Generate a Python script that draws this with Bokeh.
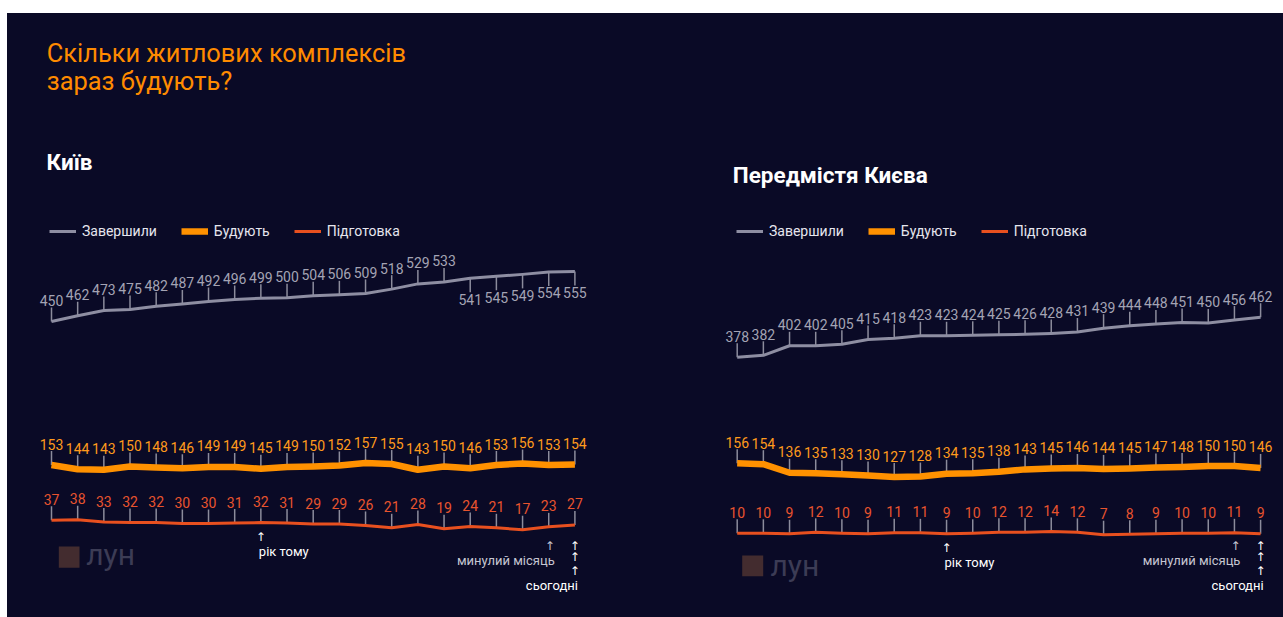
import math

from bokeh.core.properties import value
from bokeh.embed import file_html
from bokeh.layouts import column, row
from bokeh.models import BoxAnnotation, Label, Legend, LegendItem, Range1d, Spacer
from bokeh.plotting import figure
from bokeh.resources import INLINE

# ---- data: 21 monthly snapshots, oldest first, the last one is "today" ----
months = list(range(21))
YEAR_AGO = 8
LAST_MONTH = 19
TODAY = 20

series_names = ["Завершили", "Будують", "Підготовка"]

kyiv_done = [450, 462, 473, 475, 482, 487, 492, 496, 499, 500, 504,
             506, 509, 518, 529, 533, 541, 545, 549, 554, 555]
kyiv_building = [153, 144, 143, 150, 148, 146, 149, 149, 145, 149, 150,
                 152, 157, 155, 143, 150, 146, 153, 156, 153, 154]
kyiv_prep = [37, 38, 33, 32, 32, 30, 30, 31, 32, 31, 29,
             29, 26, 21, 28, 19, 24, 21, 17, 23, 27]

suburbs_done = [378, 382, 402, 402, 405, 415, 418, 423, 423, 424, 425,
                426, 428, 431, 439, 444, 448, 451, 450, 456, 462]
suburbs_building = [156, 154, 136, 135, 133, 130, 127, 128, 134, 135, 138,
                    143, 145, 146, 144, 145, 147, 148, 150, 150, 146]
suburbs_prep = [10, 10, 9, 12, 10, 9, 11, 11, 9, 10, 12,
                12, 14, 12, 7, 8, 9, 10, 10, 11, 9]

# ---- styling ----
BG = "#0a0a26"
TITLE_ORANGE = "#ff8b00"
GREY = "#8e8ea2"
GREY_TXT = "#a4a4b4"
ORANGE = "#ff9100"
ORANGE_TXT = "#ff9a1c"
RED = "#e8501f"
RED_TXT = "#e8542e"
STEM = "#8c8c9c"
WHITE = "#ffffff"
SOFT = "#c6c6d2"
FONT = "Roboto"
ARROW_FONT = "DejaVu Sans"

PX_PER_UNIT = 0.476   # same vertical scale for every series
FRAME_H = 604
PAGE_BOTTOM = 617
STEP = 26.17          # px between months
STEM_LEN = 14
LABEL_GAP = 21
BASELINE_LIFT = 9     # raise free-standing labels onto their baselines


def band_range(first_value, first_page_y):
    """A y range that puts first_value at the given page row, PX_PER_UNIT px per unit."""
    start = first_value - (PAGE_BOTTOM - first_page_y) / PX_PER_UNIT
    return Range1d(start, start + FRAME_H / PX_PER_UNIT)


def screen_label(p, x, y, text, size, color, style="normal", align="left"):
    p.add_layout(Label(x=x, y=y + BASELINE_LIFT, x_units="screen", y_units="screen",
                       text=text, text_font=FONT, text_font_size=size,
                       text_color=color, text_font_style=style, text_align=align,
                       text_baseline="alphabetic"))


def build_panel(width, first_x, done, building, prep, band_rows, below_from,
                heading, heading_xy, legend_x, logo_box, logo_text_xy):
    p = figure(width=width, height=FRAME_H, output_backend="svg",
               toolbar_location=None, x_axis_location=None, y_axis_location=None,
               x_range=Range1d(-first_x / STEP, (width - first_x) / STEP),
               y_range=Range1d(0, FRAME_H), min_border=0,
               background_fill_color=BG, border_fill_color=BG,
               outline_line_color=None)
    p.grid.visible = False

    styles = [
        ("done", done, GREY, 3, GREY_TXT),
        ("building", building, ORANGE, 6.5, ORANGE_TXT),
        ("prep", prep, RED, 3, RED_TXT),
    ]
    for (name, vals, *_), row_y in zip(styles, band_rows):
        p.extra_y_ranges[name] = band_range(vals[0], row_y)

    lines = []
    for name, vals, color, lw, txt_color in styles:
        below = [name == "done" and below_from is not None and i >= below_from
                 for i in months]
        p.ray(x=months, y=vals, length=STEM_LEN, length_units="screen",
              angle=[-math.pi / 2 if b else math.pi / 2 for b in below],
              line_color=STEM, line_width=1.5, y_range_name=name)
        r = p.line(months, vals, line_color=color, line_width=lw,
                   line_join="round", y_range_name=name)
        lines.append(r)
        p.text(x=months, y=vals, text=[str(v) for v in vals],
               y_offset=[LABEL_GAP if b else -LABEL_GAP for b in below],
               text_align="center", text_baseline="middle",
               text_font=value(FONT), text_font_size="14px",
               text_color=txt_color, y_range_name=name)

    legend = Legend(
        items=[LegendItem(label=n, renderers=[r]) for n, r in zip(series_names, lines)],
        location=(legend_x, PAGE_BOTTOM - 231 - 10), orientation="horizontal",
        glyph_width=27, glyph_height=20, label_height=20, label_standoff=6,
        spacing=24, padding=0, margin=0,
        label_text_font=FONT, label_text_font_size="14px", label_text_color="#e6e6ee",
        border_line_alpha=0, background_fill_alpha=0)
    p.add_layout(legend)

    screen_label(p, heading_xy[0], heading_xy[1], heading, "22.5px", WHITE, "bold")

    # month markers under the preparation line
    note = dict(text_font=value(FONT), text_font_size="13px", text_baseline="middle")
    arrow = dict(text_font=value(ARROW_FONT), text_font_size="12px", text_baseline="middle")
    p.text(x=[YEAR_AGO], y=[prep[YEAR_AGO]], text=["↑"], y_offset=14.5,
           text_align="center", text_color=WHITE, y_range_name="prep", **arrow)
    p.text(x=[YEAR_AGO], y=[prep[YEAR_AGO]], text=["рік тому"], y_offset=29,
           x_offset=-2, text_align="left", text_color=WHITE, y_range_name="prep", **note)
    p.text(x=[LAST_MONTH], y=[71.5], text=["↑"], x_offset=1,
           text_align="center", text_color=SOFT, **arrow)
    p.text(x=[LAST_MONTH], y=[57], text=["минулий місяць"], x_offset=6,
           text_align="right", text_color=SOFT, **note)
    p.text(x=[TODAY] * 3, y=[72, 60.5, 46.5], text=["↑"] * 3,
           text_align="center", text_color=WHITE, **arrow)
    p.text(x=[TODAY], y=[32.5], text=["сьогодні"], x_offset=3,
           text_align="right", text_color=WHITE, **note)

    # ЛУН watermark
    l, r_, b, t = logo_box
    p.add_layout(BoxAnnotation(left=l, right=r_, bottom=b, top=t,
                               left_units="screen", right_units="screen",
                               bottom_units="screen", top_units="screen",
                               fill_color="#432c2f", fill_alpha=1, line_color=None))
    screen_label(p, logo_text_xy[0], logo_text_xy[1], "лун", "30px", "#3c3c55")
    return p


left = build_panel(
    640, 44.0, kyiv_done, kyiv_building, kyiv_prep,
    band_rows=(321.0, 464.5, 519.7), below_from=16,
    heading="Київ", heading_xy=(39, 446.3), legend_x=42,
    logo_box=(51.3, 72, 49.7, 71), logo_text_xy=(78.7, 54.3))

screen_label(left, 39.3, 556, "Скільки житлових комплексів", "25.4px", TITLE_ORANGE)
screen_label(left, 39.3, 527.5, "зараз будують?", "25.4px", TITLE_ORANGE)

right = build_panel(
    636, 89.7, suburbs_done, suburbs_building, suburbs_prep,
    band_rows=(356.7, 462.7, 532.8), below_from=None,
    heading="Передмістя Києва", heading_xy=(85.3, 433.7), legend_x=89,
    logo_box=(94.7, 115.7, 41.3, 62), logo_text_xy=(123, 43))

panels = row(left, right, styles={"background-color": BG})
page = column(Spacer(width=1283, height=13),
              row(Spacer(width=7, height=FRAME_H), panels))

open("out.html", "w").write(file_html(page, INLINE))
